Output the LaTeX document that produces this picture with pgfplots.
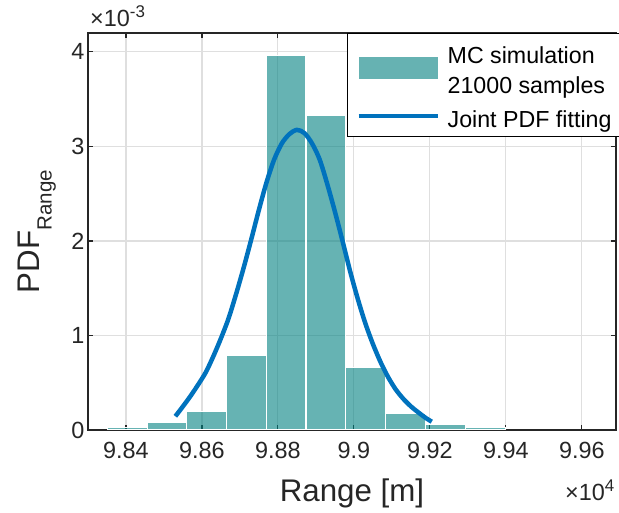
\documentclass[border=0pt]{standalone}
\usepackage{pgfplots}
\pgfplotsset{compat=1.18}
\usepackage{fontspec}
\setmainfont{Liberation Sans}
\definecolor{barcol}{RGB}{0,128,128}
\definecolor{linecol}{RGB}{0,114,189}
\definecolor{axcol}{RGB}{38,38,38}
\definecolor{gridcol}{RGB}{223,223,223}
\pgfplotsset{
  layers/mylayers/.define layer set={axis background,axis grid,pre main,main,axis ticks,axis lines,axis tick labels,axis descriptions,axis foreground}{},
}
\begin{document}
\begin{tikzpicture}
\begin{axis}[
  name=ax,
  set layers=mylayers,
  scale only axis,
  width=528bp, height=397bp,
  xmin=98300, xmax=99690,
  ymin=0, ymax=4.2,
  scaled ticks=false,
  xtick={98400,98600,98800,99000,99200,99400,99600},
  xticklabels={9.84,9.86,9.88,9.9,9.92,9.94,9.96},
  ytick={0,1,2,3,4},
  yticklabels={0,1,2,3,4},
  tick align=inside,
  major tick length=5bp,
  grid=major,
  major grid style={draw=gridcol, line width=1.1bp},
  axis line style={draw=axcol, line width=1.1bp},
  every tick/.style={draw=axcol, line width=1.1bp},
  tick label style={font=\fontsize{23.5}{28}\selectfont, text=axcol},
  xticklabel style={yshift=-9bp},
  xlabel={Range [m]},
  xlabel style={at={(axis description cs:0.5,0)}, anchor=base, yshift=-71.5bp, font=\fontsize{31.4}{36}\selectfont, text=axcol},
  ylabel={PDF\raisebox{-11.6bp}{\fontsize{20.6}{24}\selectfont Range}},
  ylabel style={at={([xshift=-48bp]axis description cs:0,0.5)}, anchor=base, font=\fontsize{31.4}{36}\selectfont, text=axcol},
  legend style={at={(axis description cs:1,1)}, anchor=north east, xshift=5bp,
    draw=black, line width=1bp, fill=white, inner xsep=9bp, inner ysep=7bp,
    font=\fontsize{23.3}{30}\selectfont, row sep=16bp, column sep=7.7bp,
    nodes={inner sep=0pt}, cells={anchor=west, align=left}},
  legend cell align=left,
]
\addplot[ybar interval, fill=barcol, fill opacity=0.6, draw=white, line width=1.1bp,
  legend image code/.code={\fill[barcol, fill opacity=0.6, draw=none] (0bp,-11bp) rectangle (79bp,11bp);}]
coordinates {
(98351,0.024) (98456,0.082) (98560,0.197) (98665,0.785) (98770,3.966)
(98874,3.327) (98979,0.665) (99084,0.177) (99189,0.063) (99293,0.030)
(99398,0.030)
};
\addplot[linecol, line width=4.5bp, smooth,
  legend image code/.code={\draw[linecol, line width=4.5bp] (0bp,4bp) -- (79bp,4bp);}]
coordinates {
(98530,0.145)(98550,0.250)(98570,0.360)(98590,0.480)(98610,0.610)(98630,0.780)
(98650,0.970)(98670,1.180)(98690,1.440)(98710,1.720)(98730,2.020)(98750,2.330)
(98770,2.620)(98790,2.860)(98810,3.030)(98830,3.130)(98850,3.175)(98870,3.140)
(98890,3.030)(98910,2.860)(98930,2.600)(98950,2.310)(98970,2.000)(98990,1.680)
(99010,1.390)(99030,1.130)(99050,0.910)(99070,0.720)(99090,0.560)(99110,0.430)
(99130,0.330)(99150,0.250)(99170,0.185)(99190,0.125)(99205,0.088)
};
\legend{{\rule{0pt}{23bp}MC simulation\\21000 samples},{Joint PDF fitting}}
\end{axis}
\node[anchor=base west, inner sep=0pt, text=axcol, font=\fontsize{23.5}{28}\selectfont]
  at ([shift={(2bp,6bp)}]ax.north west) {×10\raisebox{9bp}{\fontsize{17}{20}\selectfont -3}};
\node[anchor=base west, inner sep=0pt, text=axcol, font=\fontsize{23.5}{28}\selectfont]
  at ([shift={(-51bp,-70bp)}]ax.south east) {×10\raisebox{9bp}{\fontsize{17}{20}\selectfont 4}};
\pgfresetboundingbox
\useasboundingbox ([shift={(-88bp,-83bp)}]ax.south west) rectangle ([shift={(3bp,33bp)}]ax.north east);
\end{tikzpicture}
\end{document}
